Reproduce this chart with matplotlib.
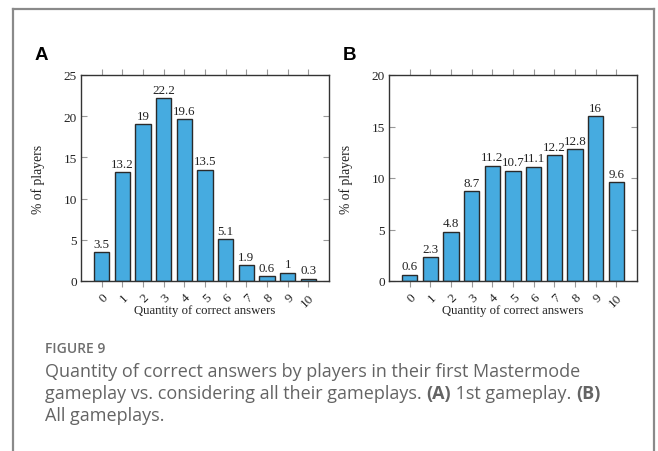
import matplotlib
matplotlib.use("Agg")
import matplotlib.pyplot as plt
from matplotlib.lines import Line2D

# Share of players (%) by number of correct answers
answers = list(range(11))
tick_labels = [str(a) for a in answers]
first_gameplay = [3.5, 13.2, 19, 22.2, 19.6, 13.5, 5.1, 1.9, 0.6, 1, 0.3]
all_gameplays = [0.6, 2.3, 4.8, 8.7, 11.2, 10.7, 11.1, 12.2, 12.8, 16, 9.6]

panels = [
    ("A", first_gameplay, 25, [0, 5, 10, 15, 20, 25]),
    ("B", all_gameplays, 20, [0, 5, 10, 15, 20]),
]

W, H = 658, 452
fig = plt.figure(figsize=(W / 100, H / 100), dpi=100)
fig.patch.set_facecolor("white")

serif = "Liberation Serif"
bar_color = "#46ABE0"
ink = "#222222"

# frame around the figure (open at the bottom)
frame_col = "#8a8a8a"
for xs, ys in [([13, 13], [452, 10]), ([13, 654], [10, 10]), ([654, 654], [10, 452])]:
    fig.add_artist(Line2D([x / W for x in xs], [1 - y / H for y in ys],
                          transform=fig.transFigure, color=frame_col, lw=1.6))

axes_px = [(81, 329), (389, 637)]
top_px, bot_px = 76, 282

for (letter, vals, ymax, yticks), (x0, x1) in zip(panels, axes_px):
    ax = fig.add_axes([x0 / W, 1 - bot_px / H, (x1 - x0) / W, (bot_px - top_px) / H])
    ax.bar(answers, vals, width=0.74, color=bar_color, edgecolor="#2a2a2a", linewidth=1.0, zorder=2)
    for a, v in zip(answers, vals):
        ax.text(a, v + ymax * 0.012, f"{v:g}", ha="center", va="bottom",
                fontsize=9.4, family=serif, color=ink)
    ax.set_xlim(-1, 11)
    ax.set_ylim(0, ymax)
    ax.set_yticks(yticks)
    ax.set_yticklabels([str(t) for t in yticks], family=serif, fontsize=9.5, color=ink)
    ax.set_xticks(answers)
    ax.set_xticklabels(tick_labels, rotation=45, ha="right", rotation_mode="anchor",
                       family=serif, fontsize=9.5, color=ink)
    ax.tick_params(axis="y", direction="in", length=4, width=0.8, color="#999999",
                   left=True, right=True, pad=3)
    ax.tick_params(axis="x", direction="out", length=4, width=0.8, color="#999999",
                   top=True, bottom=True, pad=3)
    for s in ax.spines.values():
        s.set_color("#333333")
        s.set_linewidth(1.0)
    ax.set_xlabel("Quantity of correct answers", family=serif, fontsize=9.2, color=ink, labelpad=-3)
    ax.set_ylabel("% of players", family=serif, fontsize=9.8, color=ink, labelpad=13)
    fig.text((x0 - 46) / W, 1 - 55 / H, letter, family="Liberation Sans", weight="bold",
             fontsize=13.5, ha="left", va="center", color="black")

# caption below the panels
cap_font = "Open Sans"
cap_col = "#646464"
fig.text(45 / W, 1 - 353 / H, "FIGURE 9", family=cap_font, fontsize=10, color="#6e6e6e",
         weight="semibold", ha="left", va="baseline")
lines = [
    [("Quantity of correct answers by players in their first Mastermode", "normal")],
    [("gameplay vs. considering all their gameplays. ", "normal"), ("(A)", "bold"),
     (" 1st gameplay. ", "normal"), ("(B)", "bold")],
    [("All gameplays.", "normal")],
]
baselines = [377, 399, 421]
left_px, right_px = 45, 580

fig.canvas.draw()
renderer = fig.canvas.get_renderer()
probe = fig.text(0, 0, lines[0][0][0], family=cap_font, fontsize=12)
cap_size = 12 * (right_px - left_px) / probe.get_window_extent(renderer=renderer).width
probe.remove()

for parts, base in zip(lines, baselines):
    xpx = left_px
    for txt, wt in parts:
        t = fig.text(xpx / W, 1 - base / H, txt, family=cap_font, fontsize=cap_size,
                     color=cap_col, weight=wt, ha="left", va="baseline")
        xpx += t.get_window_extent(renderer=renderer).width

fig.savefig("out.png", dpi=100, facecolor="white")
